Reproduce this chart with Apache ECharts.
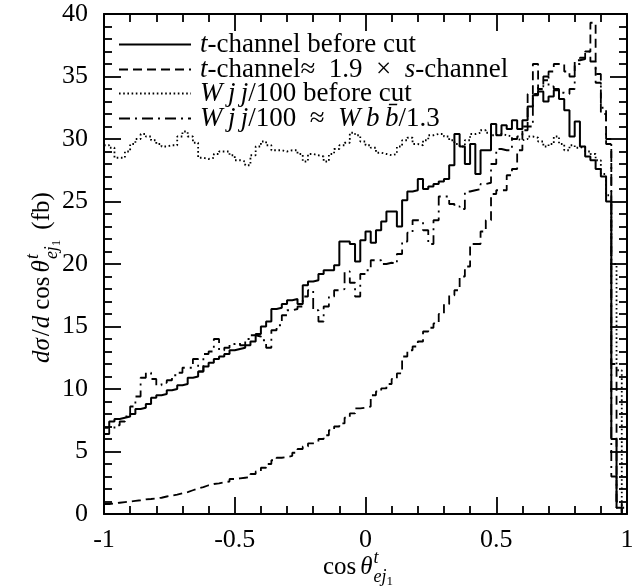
<!DOCTYPE html>
<html><head><meta charset="utf-8">
<script src="https://cdn.jsdelivr.net/npm/echarts@6/dist/echarts.min.js"></script>
<style>html,body{margin:0;padding:0;background:#fff}#c{width:644px;height:588px}</style>
</head><body><div id="c"></div>
<script>
// ---- data (100 bins of width 0.02 from -1 to 1) ----
const tChannelBeforeCut = [
 6.9,7.4,7.6,7.7,7.8,8.0,8.4,8.5,8.8,9.3,
 9.5,9.6,9.9,10.0,10.3,10.4,10.9,11.0,11.4,11.8,
 12.1,12.4,12.6,12.8,13.1,13.2,13.3,13.5,13.8,14.4,
 15.0,15.4,16.4,16.5,16.8,17.1,17.2,16.8,18.3,18.6,
 18.7,19.2,19.5,19.5,19.9,21.8,21.8,21.6,20.2,21.9,
 22.6,21.7,22.7,23.4,24.2,24.2,23.0,25.1,25.8,25.9,
 26.8,26.0,26.2,26.4,26.6,26.8,27.9,30.4,29.4,28.0,
 29.6,27.2,29.1,29.1,31.2,30.3,31.1,30.8,31.5,30.8,
 31.5,32.6,33.5,33.8,33.0,33.4,33.9,33.2,32.3,30.2,
 31.4,29.4,28.6,28.3,27.6,27.0,25.0,6.0,0.5,0
];
const tChannelVsS = [
 0.8,0.85,0.9,0.95,1.0,1.05,1.1,1.17,1.2,1.25,
 1.3,1.4,1.47,1.55,1.65,1.75,1.9,2.05,2.15,2.3,
 2.4,2.45,2.55,2.6,2.8,2.85,2.9,2.95,3.2,3.4,
 3.7,4.0,4.3,4.5,4.55,4.65,4.9,5.2,5.4,5.65,
 5.8,6.0,6.3,6.7,7.0,7.25,7.7,8.05,8.45,8.5,
 8.6,9.5,9.8,10.05,10.4,10.8,11.25,12.6,13.1,13.4,
 13.8,14.6,14.9,15.25,16.0,16.8,17.5,17.9,19.0,19.8,
 21.6,21.6,22.6,23.5,25.6,25.9,25.9,27.1,27.6,29.1,
 31.0,33.6,36.0,34.0,34.7,35.4,36.0,36.0,35.4,35.0,
 36.3,36.4,37.0,39.3,34.5,32.0,29.6,12.0,1.0,0
];
const wjjBeforeCut = [
 29.5,29.3,28.5,28.5,29.0,29.6,30.0,30.4,30.2,29.9,
 29.6,29.4,29.5,29.5,30.2,30.6,30.2,29.7,28.5,28.4,
 28.5,28.8,29.0,29.0,28.7,28.3,28.2,27.9,28.7,29.4,
 29.8,29.5,29.1,29.1,29.0,29.1,29.1,28.8,28.2,28.8,
 28.7,28.6,28.2,28.8,29.2,29.5,29.7,30.5,30.3,29.8,
 29.5,29.3,28.9,28.8,28.7,28.8,29.4,29.9,30.1,29.6,
 29.5,29.9,30.3,30.4,30.4,30.2,29.9,29.6,29.4,29.9,
 30.4,30.5,30.7,30.5,30.3,30.4,30.3,30.2,30.0,29.9,
 30.0,30.2,30.1,29.8,29.4,29.6,30.2,29.6,29.1,29.5,
 29.3,29.4,29.0,28.8,28.3,27.2,25.5,20.0,11.5,0.5
];
const wjjVsWbb = [
 6.4,6.8,7.1,7.4,7.8,8.6,9.4,10.9,11.3,10.8,
 10.3,10.5,10.7,11.1,11.3,11.7,11.7,12.4,11.4,12.8,
 13.0,14.0,13.1,13.3,13.6,13.7,13.5,14.0,14.3,14.2,
 13.9,13.3,14.7,15.1,15.9,16.3,16.4,16.6,17.4,17.9,
 16.3,15.4,16.6,17.4,17.9,18.0,19.4,18.5,17.4,19.2,
 19.5,20.3,20.3,20.0,20.1,20.0,20.8,21.8,22.5,23.5,
 23.4,22.7,21.6,23.5,25.4,25.4,24.8,24.6,24.4,25.8,
 25.9,26.0,26.4,26.5,28.0,29.2,29.1,29.1,30.0,30.2,
 30.7,31.0,33.6,34.2,35.0,34.2,34.0,33.7,33.6,34.0,
 36.0,36.5,37.0,36.2,35.2,32.5,30.0,3.0,0.5,0
];
const xTickLabels = ['-1','-0.5','0','0.5','1'];
const yTickLabels = ['0','5','10','15','20','25','30','35','40'];
const seriesNames = ['tBefore','tVsS','wjjBefore','wjjVsWbb'];
const legendLabels = {
  tBefore: '{it|t}-channel before cut',
  tVsS: '{it|t}-channel≈\u20021.9\u2002×\u2002{it|s}-channel',
  wjjBefore: '{it|W\u2009j\u2009j}/100 before cut',
  wjjVsWbb: '{it|W\u2009j\u2009j}/100  ≈  {it|W\u2009b\u2009b\u0304}/1.3'
};

const binEdges = tChannelBeforeCut.map((_, i) => Math.round((-1 + 0.02 * i) * 100) / 100);
function toSteps(vals) {
  const pts = vals.map((v, i) => [binEdges[i], v]);
  pts.push([1, vals[vals.length - 1]]);
  return pts;
}

const FONT = 'Liberation Serif';
const chart = echarts.init(document.getElementById('c'), null, {renderer: 'canvas'});

function axisCommon(showLabel) {
  return {
    axisLine: {show: true, onZero: false, lineStyle: {color: '#000', width: 2}},
    axisTick: {show: true, inside: true, length: 17, lineStyle: {color: '#000', width: 1.8}},
    minorTick: {show: true, splitNumber: 5, length: 8, lineStyle: {color: '#000', width: 1.8}},
    splitLine: {show: false},
    axisLabel: {show: showLabel, color: '#000', fontFamily: FONT, fontSize: 26,
      showMinLabel: true, showMaxLabel: true}
  };
}

const xA = Object.assign(axisCommon(true), {type: 'value', min: -1, max: 1, interval: 0.5, position: 'bottom'});
xA.axisLabel.margin = 13;
xA.axisLabel.formatter = v => xTickLabels[Math.round((v + 1) / 0.5)];
const xB = Object.assign(axisCommon(false), {type: 'value', min: -1, max: 1, interval: 0.5, position: 'top'});
const yA = Object.assign(axisCommon(true), {type: 'value', min: 0, max: 40, interval: 5, position: 'left'});
yA.axisLabel.margin = 16;
yA.axisLabel.formatter = v => yTickLabels[Math.round(v / 5)];
const yB = Object.assign(axisCommon(false), {type: 'value', min: 0, max: 40, interval: 5, position: 'right'});

const styles = [
  {type: 'solid', width: 2},
  {type: [9, 5], width: 1.8},
  {type: [1.6, 2.6], width: 1.8},
  {type: [11, 5, 2, 5], width: 1.8}
];
const datas = [tChannelBeforeCut, tChannelVsS, wjjBeforeCut, wjjVsWbb];

const series = seriesNames.map((n, i) => ({
  name: n, type: 'line', step: 'end', symbol: 'none', symbolSize: 0, showSymbol: false,
  xAxisIndex: 0, yAxisIndex: 0, animation: false, silent: true,
  lineStyle: {color: '#000', width: styles[i].width, type: styles[i].type},
  itemStyle: {color: '#000'},
  data: toSteps(datas[i])
}));

// ---- one legend block per row ----
const legendRowCenters = [43, 68, 92, 117];
const legends = seriesNames.map((n, i) => ({
  show: true, orient: 'vertical', left: 118, top: legendRowCenters[i] - 12, padding: 0,
  selectedMode: false, itemWidth: 72, itemHeight: 14,
  data: [n],
  formatter: nm => legendLabels[nm],
  itemStyle: {opacity: 0, borderWidth: 0},
  textStyle: {color: '#000', fontFamily: FONT, fontSize: 27, lineHeight: 24, padding: [0, 0, 0, 4],
    rich: {it: {fontFamily: FONT, fontStyle: 'italic', fontSize: 27, lineHeight: 24, color: '#000'}}}
}));

// ---- math-like axis titles built from measured text pieces ----
const mctx = document.createElement('canvas').getContext('2d');
function fontStr(p) { return (p.it ? 'italic ' : '') + p.size + 'px "' + FONT + '"'; }
function wid(p) { mctx.font = fontStr(p); return mctx.measureText(p.t).width; }
function layoutPieces(pieces) {
  const out = []; let x = 0;
  pieces.forEach(p => {
    if (p.gap) { x += p.gap; return; }
    if (p.stack) {
      let maxW = 0;
      p.stack.forEach(line => {
        let lx = x;
        line.forEach(q => { out.push({q, x: lx}); lx += wid(q); });
        maxW = Math.max(maxW, lx - x);
      });
      x += maxW; return;
    }
    out.push({q: p, x}); x += wid(p);
  });
  return out.map(o => ({
    type: 'text', x: o.x, y: (o.q.dy || 0) - 0.33 * o.q.size,
    style: {text: o.q.t, font: fontStr(o.q), fill: '#000', align: 'left', verticalAlign: 'middle'}
  }));
}
const supSub = {stack: [
  [{t: 't', size: 18, it: true, dy: -12}],
  [{t: 'ej', size: 18, it: true, dy: 7}, {t: '1', size: 13, dy: 10}]
]};
const xTitle = [
  {t: 'cos', size: 25}, {gap: 4}, {t: 'θ', size: 25, it: true}, {gap: 1}, supSub
];
const yTitle = [
  {t: 'dσ', size: 25, it: true}, {gap: 2}, {t: '/', size: 25}, {gap: 1}, {t: 'd', size: 25, it: true},
  {gap: 6}, {t: 'cos', size: 25}, {gap: 4}, {t: 'θ', size: 25, it: true}, {gap: 1}, supSub,
  {gap: 10}, {t: '(fb)', size: 25}
];

chart.setOption({
  animation: false,
  grid: {left: 104, right: 17, top: 14, bottom: 74, show: false},
  xAxis: [xA, xB],
  yAxis: [yA, yB],
  legend: legends,
  series: series,
  graphic: [
    {type: 'group', x: 323, y: 576, children: layoutPieces(xTitle)},
    {type: 'group', x: 51, y: 363, rotation: Math.PI / 2, children: layoutPieces(yTitle)}
  ]
});
</script></body></html>
